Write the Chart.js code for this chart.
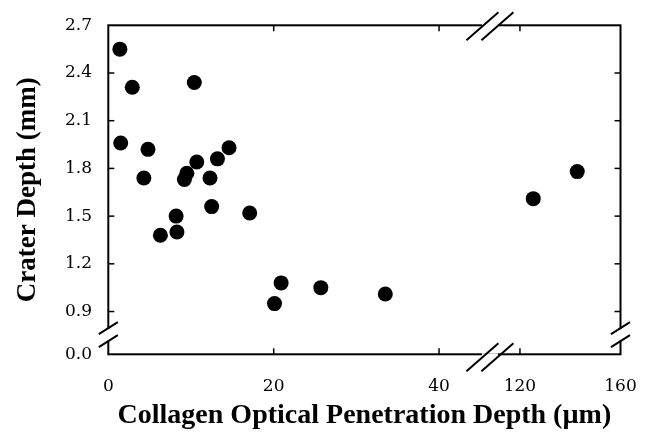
<!DOCTYPE html>
<html>
<head>
<meta charset="utf-8">
<script src="https://cdn.jsdelivr.net/npm/chart.js@4/dist/chart.umd.min.js"></script>
<style>
  html, body { margin: 0; padding: 0; background: #fff; }
  #wrap { width: 649px; height: 433px; }
</style>
</head>
<body>
<div id="wrap"><canvas id="craterChart" width="649" height="433"></canvas></div>
<script>
// measured values (x in µm, y in mm)
const penetrationDepth = [1.4, 2.9, 1.5, 4.8, 4.3, 10.4, 6.3, 8.3, 8.2, 9.2, 9.5, 10.7, 12.3, 13.2, 14.6, 12.5, 17.1, 20.1, 20.9, 25.7, 33.5, 125.3, 142.8];
const craterDepth = [2.55, 2.31, 1.96, 1.92, 1.74, 2.34, 1.38, 1.40, 1.50, 1.73, 1.77, 1.84, 1.74, 1.86, 1.93, 1.56, 1.52, 0.95, 1.08, 1.05, 1.01, 1.61, 1.78];

const xTickValues = [0, 20, 40, 120, 160];
const yTickValues = [0.9, 1.2, 1.5, 1.8, 2.1, 2.4, 2.7];

// broken x axis: 0-40 full scale, then 120-160 squeezed
const leftEnd = 40, rightStart = 120, rightEnd = 160;
const rightOffset = 49.78, rightFactor = 0.304;
function toAxis(v) {
    return v <= leftEnd ? v : rightOffset + (v - rightStart) * rightFactor;
}
const xMax = toAxis(rightEnd);
const xBreakAt = 46.15;

// broken y axis: the bottom tick stands for 0.0
const yFloor = 0.631, yBreakAt = 0.755;

const points = penetrationDepth.map((v, i) => ({ x: toAxis(v), y: craterDepth[i] }));

function line(ctx, x1, y1, x2, y2) {
    ctx.beginPath();
    ctx.moveTo(x1, y1);
    ctx.lineTo(x2, y2);
    ctx.stroke();
}

const frame = {
    id: "frame",
    afterDraw(chart) {
        const ctx = chart.ctx;
        const a = chart.chartArea;
        const x = chart.scales.x, y = chart.scales.y;
        ctx.save();
        ctx.strokeStyle = "#000";
        ctx.lineWidth = 2;
        ctx.strokeRect(a.left, a.top, a.right - a.left, a.bottom - a.top);

        // inward ticks
        ctx.lineWidth = 1.5;
        const tl = 6;
        yTickValues.slice(0, -1).forEach(v => {
            const py = y.getPixelForValue(v);
            line(ctx, a.left, py, a.left + tl, py);
            line(ctx, a.right, py, a.right - tl, py);
        });
        xTickValues.slice(1, -1).forEach(v => {
            const px = x.getPixelForValue(toAxis(v));
            line(ctx, px, a.top, px, a.top + tl);
            line(ctx, px, a.bottom, px, a.bottom - tl);
        });

        // break marks on x axis (top and bottom)
        const bx = x.getPixelForValue(xBreakAt);
        [a.top + 1, a.bottom + 3].forEach(py => {
            ctx.fillStyle = "#fff";
            ctx.fillRect(bx - 8, py - 4, 16, 6);
            ctx.lineWidth = 2;
            [-7.5, 7.5].forEach(d => line(ctx, bx + d - 16, py + 14, bx + d + 16, py - 14));
        });

        // break marks on y axis (left and right)
        const by = y.getPixelForValue(yBreakAt);
        [a.left, a.right].forEach(px => {
            ctx.fillStyle = "#fff";
            ctx.fillRect(px - 3, by - 6, 6, 12);
            ctx.lineWidth = 2;
            [-6.5, 6.5].forEach(d => line(ctx, px - 9.5, by + d + 6, px + 9.5, by + d - 6));
        });
        ctx.restore();
    }
};

new Chart(document.getElementById("craterChart"), {
    type: "scatter",
    data: {
        datasets: [{
            label: "Crater depth",
            data: points,
            backgroundColor: "#000",
            borderWidth: 0,
            pointRadius: 7.5,
            pointHoverRadius: 7.5
        }]
    },
    options: {
        responsive: false,
        animation: false,
        devicePixelRatio: 1,
        layout: { padding: { top: 25.3, right: 28.5, left: 0, bottom: 0 } },
        plugins: { legend: { display: false }, tooltip: { enabled: false } },
        scales: {
            x: {
                type: "linear",
                min: 0,
                max: xMax,
                grid: { display: false, drawTicks: false },
                border: { display: false },
                afterBuildTicks: s => { s.ticks = xTickValues.map(v => ({ value: toAxis(v) })); },
                afterFit: s => { s.height = 78.7; s.paddingLeft = 0; s.paddingRight = 0; },
                ticks: {
                    padding: 22,
                    color: "#000",
                    font: { family: "DejaVu Serif", size: 17 },
                    callback: (v, i) => String(xTickValues[i])
                },
                title: {
                    display: true,
                    text: "Collagen Optical Penetration Depth (µm)",
                    color: "#000",
                    font: { family: "Liberation Serif", size: 28, weight: "bold", lineHeight: 1 },
                    padding: { top: 0, bottom: 3.5 }
                }
            },
            y: {
                type: "linear",
                min: yFloor,
                max: 2.7,
                grid: { display: false, drawTicks: false },
                border: { display: false },
                afterBuildTicks: s => { s.ticks = [{ value: yFloor }].concat(yTickValues.map(v => ({ value: v }))); },
                afterFit: s => { s.width = 108.3; s.paddingTop = 0; s.paddingBottom = 0; },
                ticks: {
                    padding: 16.3,
                    color: "#000",
                    font: { family: "DejaVu Serif", size: 17 },
                    callback: (v, i) => i === 0 ? "0.0" : yTickValues[i - 1].toFixed(1)
                },
                title: {
                    display: true,
                    text: "Crater Depth (mm)",
                    color: "#000",
                    font: { family: "Liberation Serif", size: 27, weight: "bold", lineHeight: 1 },
                    padding: { top: 14.5, bottom: 0 }
                }
            }
        }
    },
    plugins: [frame]
});
</script>
</body>
</html>
